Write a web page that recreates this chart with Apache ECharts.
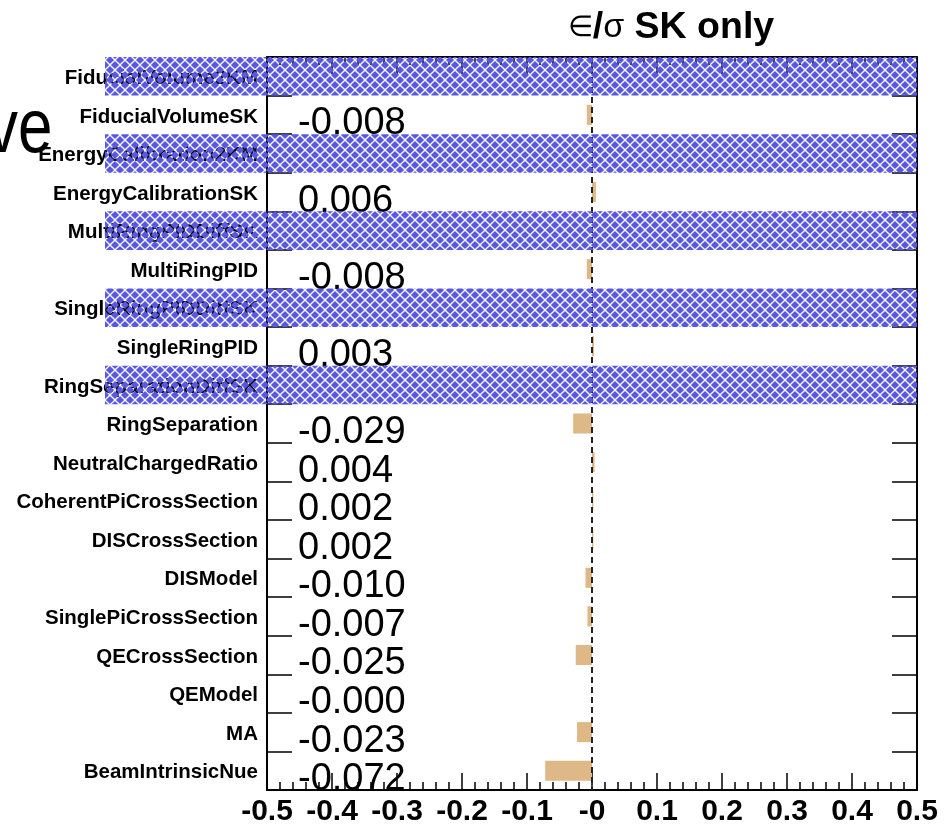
<!DOCTYPE html>
<html><head><meta charset="utf-8">
<script src="https://cdn.jsdelivr.net/npm/echarts@6/dist/echarts.min.js"></script>
<style>html,body{margin:0;padding:0;background:#fff}#c{width:950px;height:825px}</style>
</head><body><div id="c"></div>
<script>
// ---- data ----
const categories = ['FiducialVolume2KM','FiducialVolumeSK','EnergyCalibration2KM','EnergyCalibrationSK',
  'MultiRingPIDDiffSK','MultiRingPID','SingleRingPIDDiffSK','SingleRingPID','RingSeparationDiffSK',
  'RingSeparation','NeutralChargedRatio','CoherentPiCrossSection','DISCrossSection','DISModel',
  'SinglePiCrossSection','QECrossSection','QEModel','MA','BeamIntrinsicNue'];
const values = [null,-0.008,null,0.006,null,-0.008,null,0.003,null,
  -0.029,0.004,0.002,0.002,-0.010,-0.007,-0.025,-0.0004,-0.023,-0.072];
const hatched = [1,0,1,0,1,0,1,0,1,0,0,0,0,0,0,0,0,0,0];
const xTickLabels = ['-0.5','-0.4','-0.3','-0.2','-0.1','-0','0.1','0.2','0.3','0.4','0.5'];
const titleParts = ['∈', '/', 'σ', ' SK only'];
const sideText = 've';

// ---- hatch pattern ----
function makePattern(){
  const c = document.createElement('canvas'); c.width = 10; c.height = 10;
  const g = c.getContext('2d');
  g.fillStyle = '#5858e4';
  const d = (cx, cy, r) => { g.beginPath(); g.moveTo(cx, cy - r); g.lineTo(cx + r, cy);
    g.lineTo(cx, cy + r); g.lineTo(cx - r, cy); g.closePath(); g.fill(); };
  [[0,0],[10,0],[0,10],[10,10],[5,5]].forEach(p => d(p[0], p[1], 4.1));
  return c;
}
const pat = makePattern();

const FONT = 'Liberation Sans, Arial, sans-serif';
const chart = echarts.init(document.getElementById('c'), null, {renderer: 'canvas'});
const frame = {color: '#000', width: 2};
const tickStyle = {color: '#000', width: 1.5};

chart.setOption({
  animation: false,
  backgroundColor: '#fff',
  grid: [
    {left: 267, right: 33, top: 57, bottom: 35, containLabel: false, outerBoundsMode: 'none'},
    {left: 105, right: 33, top: 57, bottom: 35, containLabel: false, outerBoundsMode: 'none'}
  ],
  xAxis: [
    {type: 'value', gridIndex: 0, min: -0.5, max: 0.5, interval: 0.1, position: 'bottom',
      axisLine: {show: true, onZero: false, lineStyle: frame},
      axisTick: {show: true, inside: true, length: 17, lineStyle: tickStyle},
      minorTick: {show: true, splitNumber: 5, length: 8, lineStyle: tickStyle},
      splitLine: {show: false},
      axisLabel: {show: true, showMinLabel: true, showMaxLabel: true, margin: 7, fontSize: 30,
        fontWeight: 'bold', color: '#000', fontFamily: FONT,
        formatter: v => xTickLabels[Math.round((v + 0.5) / 0.1)]}
    },
    {type: 'value', gridIndex: 0, min: -0.5, max: 0.5, interval: 0.1, position: 'top',
      axisLine: {show: true, onZero: false, lineStyle: frame},
      axisTick: {show: true, inside: true, length: 17, lineStyle: tickStyle},
      minorTick: {show: true, splitNumber: 5, length: 8, lineStyle: tickStyle},
      splitLine: {show: false}, axisLabel: {show: false}
    },
    {type: 'value', gridIndex: 1, min: 0, max: 1, show: false}
  ],
  yAxis: [
    {type: 'category', gridIndex: 0, data: categories, inverse: true, position: 'left',
      axisLine: {show: true, onZero: false, lineStyle: frame},
      axisTick: {show: true, inside: true, length: 25, interval: 0, lineStyle: tickStyle},
      axisLabel: {interval: 0, margin: 9, fontSize: 20.5, fontWeight: 'bold', color: '#000', fontFamily: FONT,
        verticalAlign: 'top', lineHeight: 4}
    },
    {type: 'category', gridIndex: 0, data: categories, inverse: true, position: 'right',
      axisLine: {show: true, onZero: false, lineStyle: frame},
      axisTick: {show: true, inside: true, length: 25, interval: 0, lineStyle: tickStyle},
      axisLabel: {show: false}
    },
    {type: 'category', gridIndex: 0, data: categories, inverse: true, position: 'left',
      axisLine: {show: false}, axisTick: {show: false},
      axisLabel: {inside: true, interval: 0, margin: 31, fontSize: 38, color: '#000', fontFamily: FONT,
        verticalAlign: 'top', lineHeight: 18,
        formatter: (v, i) => values[i] == null ? '' : values[i].toFixed(3)}
    },
    {type: 'category', gridIndex: 1, data: categories, inverse: true, show: false}
  ],
  series: [
    {type: 'bar', xAxisIndex: 0, yAxisIndex: 0, data: values, barWidth: '52%',
      itemStyle: {color: '#deb887'}, z: 2,
      markLine: {silent: true, symbol: 'none', label: {show: false},
        lineStyle: {color: '#222', type: [6, 4], width: 2}, data: [{xAxis: 0}]}
    },
    {type: 'bar', xAxisIndex: 2, yAxisIndex: 3, data: hatched.map(h => h ? 1 : null), barWidth: '100%',
      itemStyle: {color: {image: pat, repeat: 'repeat'}}, z: 5, silent: true}
  ],
  graphic: [
    {type: 'text', x: 671, y: 28, z: 10,
      style: {text: '{e|' + titleParts[0] + '}{b|' + titleParts[1] + '}{s|' + titleParts[2] + '}{b|' + titleParts[3] + '}',
        align: 'center', verticalAlign: 'middle',
        rich: {e: {fontSize: 29, fontFamily: FONT, fill: '#000'},
               s: {fontSize: 34, fontFamily: FONT, fill: '#000'},
               b: {fontSize: 37.5, fontFamily: FONT, fontWeight: 'bold', fill: '#000'}}}},
    {type: 'text', x: -13, y: 131, scaleY: 1.22, originX: 0, originY: 0, z: 10,
      style: {text: sideText, fontSize: 62, fontFamily: FONT, fill: '#000', align: 'left', verticalAlign: 'middle'}}
  ]
});
</script></body></html>
